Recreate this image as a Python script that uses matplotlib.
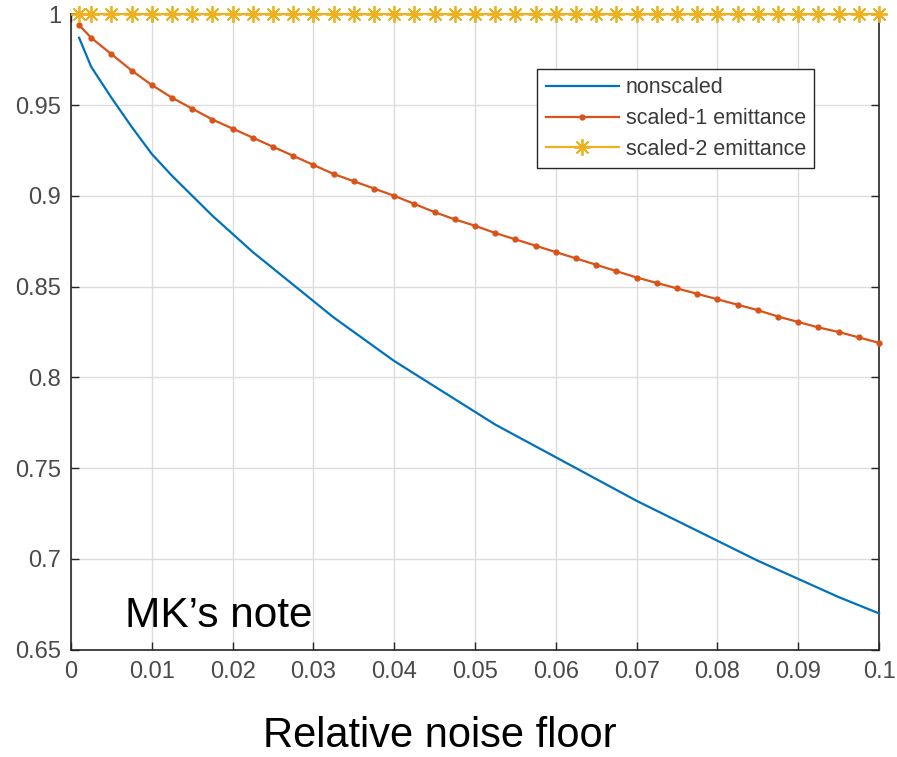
import matplotlib
matplotlib.use('Agg')
import matplotlib.pyplot as plt
from matplotlib.ticker import FuncFormatter


# values
noise = [0.001, 0.0025, 0.005, 0.0075, 0.010, 0.0125, 0.015, 0.0175, 0.020, 0.0225,
         0.025, 0.0275, 0.030, 0.0325, 0.035, 0.0375, 0.040, 0.0425, 0.045, 0.0475,
         0.050, 0.0525, 0.055, 0.0575, 0.060, 0.0625, 0.065, 0.0675, 0.070, 0.0725,
         0.075, 0.0775, 0.080, 0.0825, 0.085, 0.0875, 0.090, 0.0925, 0.095, 0.0975, 0.100]
nonscaled = [0.987, 0.971, 0.954, 0.938, 0.923, 0.911, 0.900, 0.889, 0.879, 0.869,
             0.860, 0.851, 0.842, 0.833, 0.825, 0.817, 0.809, 0.802, 0.795, 0.788,
             0.781, 0.774, 0.768, 0.762, 0.756, 0.750, 0.744, 0.738, 0.732, 0.7265,
             0.721, 0.7155, 0.710, 0.7045, 0.699, 0.694, 0.689, 0.684, 0.679, 0.6745, 0.670]
scaled1 = [0.994, 0.987, 0.978, 0.969, 0.961, 0.954, 0.948, 0.942, 0.937, 0.932,
           0.927, 0.922, 0.917, 0.912, 0.908, 0.904, 0.900, 0.8955, 0.891, 0.887,
           0.8835, 0.8795, 0.876, 0.8725, 0.869, 0.8655, 0.862, 0.8585, 0.855, 0.852,
           0.849, 0.846, 0.843, 0.840, 0.837, 0.8335, 0.8305, 0.8275, 0.825, 0.822, 0.819]
scaled2 = [1.0] * len(noise)

labels = ['nonscaled', 'scaled-1 emittance', 'scaled-2 emittance']
colors = ['#0072BD', '#D95319', '#EDB120']

plt.rcParams['font.family'] = ['Liberation Sans', 'DejaVu Sans']

fig = plt.figure(figsize=(8.97, 7.57), dpi=100)
ax = fig.add_axes([0.0792, 0.1417, 0.9008, 0.8395])

ax.plot(noise, nonscaled, color=colors[0], lw=1.6, label=labels[0], clip_on=False, zorder=3)
ax.plot(noise, scaled1, color=colors[1], lw=1.6, marker='.', ms=7, label=labels[1],
        clip_on=False, zorder=3)
# matlab style asterisk marker
ax.plot(noise, scaled2, color=colors[2], lw=1.6, marker=(8, 2, 0), ms=12, mew=1.3,
        label=labels[2], clip_on=False, zorder=4)

ax.set_xlim(0, 0.1)
ax.set_ylim(0.65, 1.0)
ax.set_xticks([i * 0.01 for i in range(11)])
ax.set_yticks([0.65 + i * 0.05 for i in range(8)])
fmt = FuncFormatter(lambda v, p: ('%.2f' % v).rstrip('0').rstrip('.') if v != 0 else '0')
ax.xaxis.set_major_formatter(fmt)
ax.yaxis.set_major_formatter(fmt)

ax.grid(True, color='#dcdcdc', lw=1.0)
ax.set_axisbelow(True)
ax.tick_params(direction='in', length=6, width=1, colors='#262626', labelcolor='#4a4a4a',
               labelsize=17, top=True, right=True)
ax.tick_params(axis='x', pad=8)
ax.tick_params(axis='y', pad=7)
for s in ax.spines.values():
    s.set_color('#262626')
    s.set_linewidth(1.2)

leg = ax.legend(loc='upper left', bbox_to_anchor=(0.577, 0.914), fontsize=15.5,
                handlelength=3.4, handletextpad=0.3, borderpad=0.4, labelspacing=0.45,
                borderaxespad=0, fancybox=False, framealpha=1, edgecolor='#262626')
leg.get_frame().set_linewidth(1.0)
for t in leg.get_texts():
    t.set_color('#3a3a3a')

fig.text(125 / 897, 130 / 757, "MK\u2019s note", va='baseline', fontsize=30.5, color='black')
fig.text(440 / 897, 10 / 757, 'Relative noise floor', ha='center', va='baseline',
         fontsize=30, color='black')

fig.savefig('out.png', dpi=100)
